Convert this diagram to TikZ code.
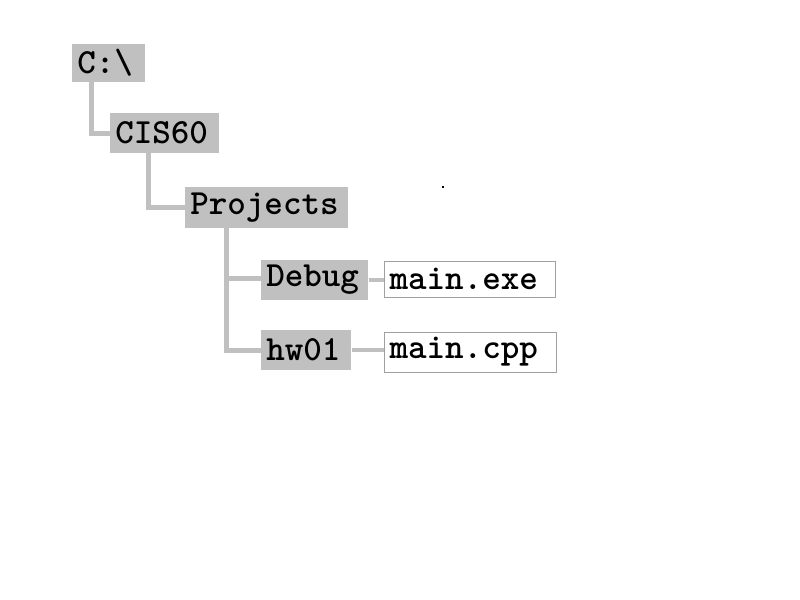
\documentclass[tikz,border=0pt]{standalone}
\usepackage{fontspec}
\begin{document}
\begin{tikzpicture}[x=0.75pt,y=-0.75pt,
  folder/.style={fill=boxgray, draw=none, anchor=west, inner xsep=3.75pt, inner ysep=0pt,
    font=\ttfamily\bfseries\fontsize{26.5}{26.5}\selectfont, align=left},
  file/.style={fill=white, draw=framegray, line width=0.75pt, anchor=west, inner xsep=3.75pt, inner ysep=0pt,
    font=\ttfamily\bfseries\fontsize{26.5}{26.5}\selectfont, align=left},
  conn/.style={draw=boxgray, line width=3.75pt},
  thinconn/.style={draw=boxgray, line width=2.4pt}]
\definecolor{boxgray}{HTML}{C0C0C0}
\definecolor{framegray}{HTML}{A0A0A0}
\useasboundingbox (0,0) rectangle (800,600);
\fill[white] (0,0) rectangle (800,600);
\node[folder, text width=47.25pt, minimum height=28.5pt] (c) at (72,63) {C:\textbackslash};
\node[folder, text width=74.25pt, minimum height=30pt] (cis) at (110,133) {CIS60};
\node[folder, text width=114.75pt, minimum height=30.75pt] (proj) at (185,207.5) {Projects};
\node[folder, text width=72.75pt, minimum height=30pt] (debug) at (261,280) {Debug};
\node[folder, text width=60pt, minimum height=30pt] (hw) at (261,350) {hw01};
\node[file, text width=120.75pt, minimum height=27pt] (exe) at (384,279) {main.exe};
\node[file, text width=121.5pt, minimum height=30pt] (cpp) at (384,352) {main.cpp};
\draw[conn] ([xshift=14.25pt]c.south west) |- (cis.west);
\draw[conn] ([xshift=28.5pt]cis.south west) |- (proj.west);
\draw[conn] ([xshift=30.75pt]proj.south west) |- ([yshift=1.5pt]debug.west);
\draw[conn] ([xshift=30.75pt]proj.south west) |- (hw.west);
\draw[thinconn] (debug.east) -- (debug.east -| exe.west);
\draw[thinconn] (hw.east) -- (hw.east -| cpp.west);
\fill (442,186) rectangle (444,188);
\end{tikzpicture}
\end{document}
